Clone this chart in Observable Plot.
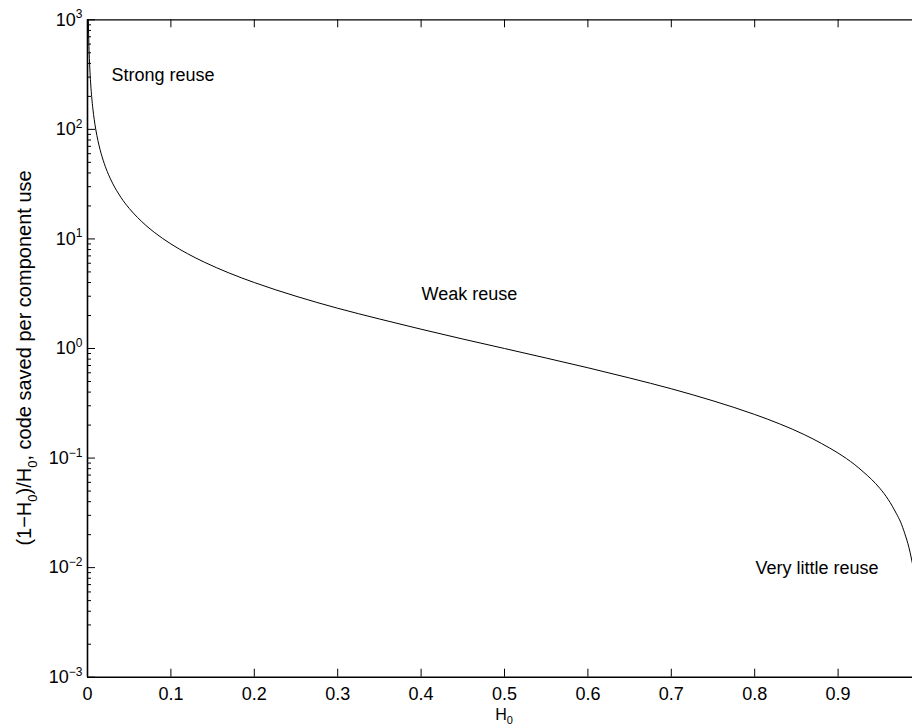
<!DOCTYPE html>
<html><head><meta charset="utf-8">
<script src="https://cdn.jsdelivr.net/npm/d3@7"></script>
<script src="https://cdn.jsdelivr.net/npm/@observablehq/plot@0.6"></script>
<style>body{margin:0;background:#fff}</style>
</head><body><div id="chart"></div>
<script>
// Values
const H0 = [0.001,0.0015,0.002,0.003,0.004,0.005,0.0065,0.008,0.01,0.0125,0.015,0.02,0.025,0.03,0.04,0.05,0.06,0.07,0.08,0.1,0.12,0.14,0.17,0.2,0.25,0.3,0.35,0.4,0.45,0.5,0.55,0.6,0.65,0.7,0.75,0.8,0.83,0.86,0.88,0.9,0.92,0.93,0.94,0.95,0.96,0.97,0.975,0.98,0.985,0.99];
const saved = [999,666,499,332,249,199,153,124,99,79,65.7,49,39,32.3,24,19,15.7,13.3,11.5,9,7.33,6.14,4.88,4,3,2.33,1.86,1.5,1.22,1,0.818,0.667,0.538,0.429,0.333,0.25,0.205,0.163,0.136,0.111,0.087,0.075,0.064,0.053,0.042,0.031,0.026,0.0204,0.0152,0.0101];

const xTicks = [0,0.1,0.2,0.3,0.4,0.5,0.6,0.7,0.8,0.9];
const xTickLabels = ["0","0.1","0.2","0.3","0.4","0.5","0.6","0.7","0.8","0.9"];
const yExponents = [-3,-2,-1,0,1,2,3];
const yMinorMultipliers = [2,3,4,5,6,7,8,9];

const annText = ["Strong reuse","Weak reuse","Very little reuse"];
const annH = [0.0288,0.4005,0.801];
const annV = [275,2.77,0.0088];

const xLabelMain = "H", xLabelSub = "0";
const yLabelParts = [["(1\u2212H",false],["0",true],[")/H",false],["0",true],[", code saved per component use",false]];

const data = H0.map((h,i)=>({h, v: saved[i]}));
const yMajor = yExponents.map(e=>Math.pow(10,e));
const yMinor = yExponents.slice(0,-1).flatMap(e=>yMinorMultipliers.map(m=>m*Math.pow(10,e)));
const ann = annText.map((t,i)=>({t, h: annH[i], v: annV[i]}));

const W=912, HT=725, mL=87, mT=19.3, mB=48.3, mR=0;
const frameH = HT-mT-mB, frameW = W-mL-mR;
const font = "'Liberation Sans', Arial, Helvetica, sans-serif";

const chart = Plot.plot({
  width: W, height: HT, marginLeft: mL, marginTop: mT, marginBottom: mB, marginRight: mR,
  style: {fontFamily: font, fontSize: "18px", background: "#fff", color: "#000"},
  x: {domain:[0,1], range:[mL, 921], axis:null},
  y: {type:"log", domain:[1e-3,1e3], range:[HT-mB, mT], axis:null},
  marks: [
    Plot.line(data, {x:"h", y:"v", stroke:"#000", strokeWidth:1, curve:"monotone-x"}),
    Plot.tickX(xTicks, {x:d=>d, insetTop: frameH-8, stroke:"#000"}),
    Plot.tickX(xTicks.slice(1), {x:d=>d, insetBottom: frameH-8, stroke:"#000"}),
    Plot.tickY(yMajor, {y:d=>d, insetRight: frameW-8, stroke:"#000"}),
    Plot.tickY(yMinor, {y:d=>d, insetRight: frameW-4, stroke:"#000"}),
    Plot.ruleY([1e-3], {stroke:"#000", strokeWidth:1.6}),
    Plot.ruleY([1e3], {stroke:"#000", strokeWidth:1.2}),
    Plot.ruleX([0], {stroke:"#000", strokeWidth:1.6}),
    Plot.axisX(xTicks, {label:null, tickSize:0, tickPadding:10, fontSize:18, tickFormat: d=>xTickLabels[xTicks.indexOf(d)]}),
    Plot.axisY(yMajor, {label:null, tickSize:0, tickPadding:5, fontSize:18, tickFormat: d=>"10^"+Math.round(Math.log10(d))}),
    Plot.text(ann, {x:"h", y:"v", text:"t", textAnchor:"start", lineAnchor:"bottom", fontSize:18, fill:"#000"})
  ]
});

// superscripts on y tick labels
d3.select(chart).selectAll('g[aria-label="y-axis tick label"] text').each(function(){
  const s = this.textContent;
  if (!s.includes("^")) return;
  const [base, ex] = s.split("^");
  const sel = d3.select(this);
  sel.text(null);
  sel.append("tspan").text(base);
  sel.append("tspan").attr("font-size", 12).attr("dy", "-0.6em").text(ex.replace("-", "\u2212"));
});

const svg = d3.select(chart);
// x label with subscript
const xl = svg.append("text").attr("x", 504).attr("y", 720).attr("text-anchor","middle")
  .attr("font-size", 16).attr("fill","#000").attr("font-family", font);
xl.append("tspan").text(xLabelMain);
xl.append("tspan").attr("font-size",11).attr("dy", 4).text(xLabelSub);

// y label with subscripts
const yl = svg.append("text").attr("transform","translate(31,358) rotate(-90)").attr("text-anchor","middle")
  .attr("font-size", 20).attr("fill","#000").attr("font-family", font);
yLabelParts.forEach(([t,sub])=>{
  yl.append("tspan").attr("font-size", sub?13:20).attr("dy", sub?6:(t.startsWith("(")?0:-6)).text(t);
});

document.getElementById("chart").appendChild(chart);
</script>
</body></html>
